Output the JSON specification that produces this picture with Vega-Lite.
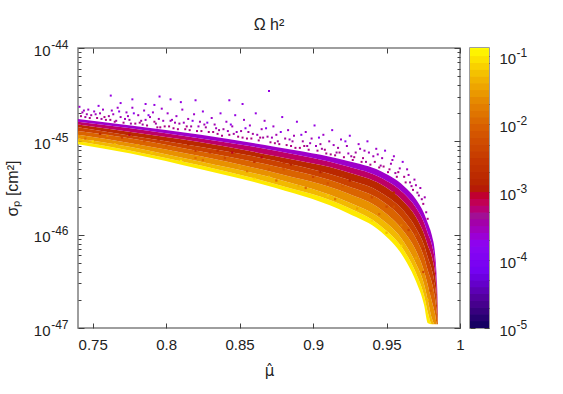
{"$schema":"https://vega.github.io/schema/vega-lite/v6.json","background":"white","padding":{"left":3,"top":16,"right":0,"bottom":0},"spacing":3,
"config":{"font":"Liberation Sans","view":{"stroke":"#7f7f7f","strokeWidth":1.5},"axis":{"domain":false,"grid":false,"tickColor":"#404040","tickWidth":1,"labelColor":"#222222","titleColor":"#222222","labelFont":"Liberation Sans","titleFont":"Liberation Sans","labelOverlap":false,"labelFlush":false,"labelBound":false,"titleFontWeight":"normal"}},
"datasets":{
"bands":[
{"x":0.74,"o":-1,"a":-45.03,"b":-45.00},{"x":0.74,"o":-1.3,"a":-45.00,"b":-44.97},{"x":0.74,"o":-1.6,"a":-44.97,"b":-44.93},{"x":0.74,"o":-2,"a":-44.93,"b":-44.89},{"x":0.74,"o":-2.4,"a":-44.89,"b":-44.85},{"x":0.74,"o":-2.8,"a":-44.85,"b":-44.82},{"x":0.74,"o":-3.2,"a":-44.82,"b":-44.79},{"x":0.74,"o":-3.6,"a":-44.79,"b":-44.76},
{"x":0.7759,"o":-1,"a":-45.13,"b":-45.10},{"x":0.7759,"o":-1.3,"a":-45.10,"b":-45.06},{"x":0.7759,"o":-1.6,"a":-45.06,"b":-45.02},{"x":0.7759,"o":-2,"a":-45.02,"b":-44.97},{"x":0.7759,"o":-2.4,"a":-44.97,"b":-44.94},{"x":0.7759,"o":-2.8,"a":-44.94,"b":-44.90},{"x":0.7759,"o":-3.2,"a":-44.90,"b":-44.86},{"x":0.7759,"o":-3.6,"a":-44.86,"b":-44.83},
{"x":0.8236,"o":-1,"a":-45.30,"b":-45.26},{"x":0.8236,"o":-1.3,"a":-45.26,"b":-45.22},{"x":0.8236,"o":-1.6,"a":-45.22,"b":-45.16},{"x":0.8236,"o":-2,"a":-45.16,"b":-45.11},{"x":0.8236,"o":-2.4,"a":-45.11,"b":-45.06},{"x":0.8236,"o":-2.8,"a":-45.06,"b":-45.01},{"x":0.8236,"o":-3.2,"a":-45.01,"b":-44.97},{"x":0.8236,"o":-3.6,"a":-44.97,"b":-44.93},
{"x":0.8747,"o":-1,"a":-45.50,"b":-45.46},{"x":0.8747,"o":-1.3,"a":-45.46,"b":-45.40},{"x":0.8747,"o":-1.6,"a":-45.40,"b":-45.34},{"x":0.8747,"o":-2,"a":-45.34,"b":-45.27},{"x":0.8747,"o":-2.4,"a":-45.27,"b":-45.21},{"x":0.8747,"o":-2.8,"a":-45.21,"b":-45.16},{"x":0.8747,"o":-3.2,"a":-45.16,"b":-45.10},{"x":0.8747,"o":-3.6,"a":-45.10,"b":-45.06},
{"x":0.9237,"o":-1,"a":-45.77,"b":-45.71},{"x":0.9237,"o":-1.3,"a":-45.71,"b":-45.65},{"x":0.9237,"o":-1.6,"a":-45.65,"b":-45.56},{"x":0.9237,"o":-2,"a":-45.56,"b":-45.48},{"x":0.9237,"o":-2.4,"a":-45.48,"b":-45.41},{"x":0.9237,"o":-2.8,"a":-45.41,"b":-45.33},{"x":0.9237,"o":-3.2,"a":-45.33,"b":-45.27},{"x":0.9237,"o":-3.6,"a":-45.27,"b":-45.21},
{"x":0.9462,"o":-1,"a":-45.97,"b":-45.91},{"x":0.9462,"o":-1.3,"a":-45.91,"b":-45.83},{"x":0.9462,"o":-1.6,"a":-45.83,"b":-45.73},{"x":0.9462,"o":-2,"a":-45.73,"b":-45.63},{"x":0.9462,"o":-2.4,"a":-45.63,"b":-45.55},{"x":0.9462,"o":-2.8,"a":-45.55,"b":-45.46},{"x":0.9462,"o":-3.2,"a":-45.46,"b":-45.39},{"x":0.9462,"o":-3.6,"a":-45.39,"b":-45.32},
{"x":0.9619,"o":-1,"a":-46.25,"b":-46.17},{"x":0.9619,"o":-1.3,"a":-46.17,"b":-46.08},{"x":0.9619,"o":-1.6,"a":-46.08,"b":-45.97},{"x":0.9619,"o":-2,"a":-45.97,"b":-45.85},{"x":0.9619,"o":-2.4,"a":-45.85,"b":-45.75},{"x":0.9619,"o":-2.8,"a":-45.75,"b":-45.65},{"x":0.9619,"o":-3.2,"a":-45.65,"b":-45.56},{"x":0.9619,"o":-3.6,"a":-45.56,"b":-45.48},
{"x":0.97,"o":-1,"a":-46.50,"b":-46.41},{"x":0.97,"o":-1.3,"a":-46.41,"b":-46.31},{"x":0.97,"o":-1.6,"a":-46.31,"b":-46.17},{"x":0.97,"o":-2,"a":-46.17,"b":-46.04},{"x":0.97,"o":-2.4,"a":-46.04,"b":-45.93},{"x":0.97,"o":-2.8,"a":-45.93,"b":-45.81},{"x":0.97,"o":-3.2,"a":-45.81,"b":-45.71},{"x":0.97,"o":-3.6,"a":-45.71,"b":-45.62},
{"x":0.9755,"o":-1,"a":-46.75,"b":-46.65},{"x":0.9755,"o":-1.3,"a":-46.65,"b":-46.53},{"x":0.9755,"o":-1.6,"a":-46.53,"b":-46.39},{"x":0.9755,"o":-2,"a":-46.39,"b":-46.24},{"x":0.9755,"o":-2.4,"a":-46.24,"b":-46.11},{"x":0.9755,"o":-2.8,"a":-46.11,"b":-45.99},{"x":0.9755,"o":-3.2,"a":-45.99,"b":-45.87},{"x":0.9755,"o":-3.6,"a":-45.87,"b":-45.77},
{"x":0.9782,"o":-1,"a":-46.95,"b":-46.84},{"x":0.9782,"o":-1.3,"a":-46.84,"b":-46.71},{"x":0.9782,"o":-1.6,"a":-46.71,"b":-46.55},{"x":0.9782,"o":-2,"a":-46.55,"b":-46.39},{"x":0.9782,"o":-2.4,"a":-46.39,"b":-46.25},{"x":0.9782,"o":-2.8,"a":-46.25,"b":-46.12},{"x":0.9782,"o":-3.2,"a":-46.12,"b":-45.99},{"x":0.9782,"o":-3.6,"a":-45.99,"b":-45.88},
{"x":0.9809,"o":-1,"a":-46.96,"b":-46.96},{"x":0.9809,"o":-1.3,"a":-46.96,"b":-46.90},{"x":0.9809,"o":-1.6,"a":-46.90,"b":-46.72},{"x":0.9809,"o":-2,"a":-46.72,"b":-46.52},{"x":0.9809,"o":-2.4,"a":-46.52,"b":-46.38},{"x":0.9809,"o":-2.8,"a":-46.38,"b":-46.24},{"x":0.9809,"o":-3.2,"a":-46.24,"b":-46.11},{"x":0.9809,"o":-3.6,"a":-46.11,"b":-46.01},
{"x":0.983,"o":-1,"a":-46.96,"b":-46.96},{"x":0.983,"o":-1.3,"a":-46.96,"b":-46.96},{"x":0.983,"o":-1.6,"a":-46.96,"b":-46.85},{"x":0.983,"o":-2,"a":-46.85,"b":-46.68},{"x":0.983,"o":-2.4,"a":-46.68,"b":-46.55},{"x":0.983,"o":-2.8,"a":-46.55,"b":-46.42},{"x":0.983,"o":-3.2,"a":-46.42,"b":-46.30},{"x":0.983,"o":-3.6,"a":-46.30,"b":-46.20},
{"x":0.9843,"o":-1,"a":-46.96,"b":-46.96},{"x":0.9843,"o":-1.3,"a":-46.96,"b":-46.96},{"x":0.9843,"o":-1.6,"a":-46.96,"b":-46.96},{"x":0.9843,"o":-2,"a":-46.96,"b":-46.85},{"x":0.9843,"o":-2.4,"a":-46.85,"b":-46.75},{"x":0.9843,"o":-2.8,"a":-46.75,"b":-46.66},{"x":0.9843,"o":-3.2,"a":-46.66,"b":-46.57},{"x":0.9843,"o":-3.6,"a":-46.57,"b":-46.50},
{"x":0.985,"o":-1,"a":-46.96,"b":-46.96},{"x":0.985,"o":-1.3,"a":-46.96,"b":-46.96},{"x":0.985,"o":-1.6,"a":-46.96,"b":-46.96},{"x":0.985,"o":-2,"a":-46.96,"b":-46.96},{"x":0.985,"o":-2.4,"a":-46.96,"b":-46.93},{"x":0.985,"o":-2.8,"a":-46.93,"b":-46.90},{"x":0.985,"o":-3.2,"a":-46.90,"b":-46.86},{"x":0.985,"o":-3.6,"a":-46.86,"b":-46.82}
],
"pts":[
{"x":0.7623,"y":-44.51,"o":-3.7},{"x":0.7955,"y":-44.52,"o":-3.7},{"x":0.803,"y":-44.55,"o":-3.7},{"x":0.777,"y":-44.55,"o":-3.7},{"x":0.82,"y":-44.56,"o":-3.7},{"x":0.843,"y":-44.56,"o":-3.7},{"x":0.87,"y":-44.46,"o":-3.7},{"x":0.81,"y":-44.58,"o":-3.7},{"x":0.769,"y":-44.59,"o":-3.7},{"x":0.852,"y":-44.6,"o":-3.7},{"x":0.754,"y":-44.62,"o":-3.7},{"x":0.786,"y":-44.6,"o":-3.7},{"x":0.792,"y":-44.61,"o":-3.7},
{"x":0.741,"y":-44.63,"o":-3.6},{"x":0.743,"y":-44.69,"o":-3.5},{"x":0.745,"y":-44.74,"o":-3.4},{"x":0.747,"y":-44.66,"o":-3.6},{"x":0.749,"y":-44.72,"o":-3.4},{"x":0.751,"y":-44.68,"o":-3.6},{"x":0.753,"y":-44.75,"o":-3.3},{"x":0.755,"y":-44.7,"o":-3.5},{"x":0.757,"y":-44.66,"o":-3.6},{"x":0.759,"y":-44.77,"o":-3.3},{"x":0.761,"y":-44.73,"o":-3.4},{"x":0.763,"y":-44.67,"o":-3.6},{"x":0.765,"y":-44.79,"o":-3.3},{"x":0.767,"y":-44.64,"o":-3.6},{"x":0.769,"y":-44.74,"o":-3.5},{"x":0.771,"y":-44.8,"o":-3.3},{"x":0.773,"y":-44.69,"o":-3.6},{"x":0.775,"y":-44.77,"o":-3.4},{"x":0.777,"y":-44.64,"o":-3.6},{"x":0.779,"y":-44.81,"o":-3.3},{"x":0.781,"y":-44.72,"o":-3.5},{"x":0.783,"y":-44.78,"o":-3.4},{"x":0.785,"y":-44.67,"o":-3.6},{"x":0.787,"y":-44.83,"o":-3.3},{"x":0.789,"y":-44.74,"o":-3.5},{"x":0.791,"y":-44.69,"o":-3.6},{"x":0.793,"y":-44.81,"o":-3.4},{"x":0.795,"y":-44.76,"o":-3.5},{"x":0.797,"y":-44.65,"o":-3.6},{"x":0.799,"y":-44.84,"o":-3.3},{"x":0.801,"y":-44.7,"o":-3.6},{"x":0.803,"y":-44.78,"o":-3.5},{"x":0.805,"y":-44.86,"o":-3.3},{"x":0.807,"y":-44.73,"o":-3.6},{"x":0.809,"y":-44.81,"o":-3.4},{"x":0.811,"y":-44.66,"o":-3.6},{"x":0.813,"y":-44.87,"o":-3.3},{"x":0.815,"y":-44.76,"o":-3.5},{"x":0.817,"y":-44.84,"o":-3.4},{"x":0.819,"y":-44.71,"o":-3.6},{"x":0.821,"y":-44.89,"o":-3.3},{"x":0.823,"y":-44.79,"o":-3.5},{"x":0.825,"y":-44.68,"o":-3.7},{"x":0.827,"y":-44.85,"o":-3.4},{"x":0.829,"y":-44.9,"o":-3.3},{"x":0.831,"y":-44.75,"o":-3.6},{"x":0.833,"y":-44.82,"o":-3.5},{"x":0.835,"y":-44.92,"o":-3.3},{"x":0.837,"y":-44.7,"o":-3.7},{"x":0.839,"y":-44.87,"o":-3.4},{"x":0.841,"y":-44.79,"o":-3.6},{"x":0.843,"y":-44.93,"o":-3.3},{"x":0.845,"y":-44.84,"o":-3.5},{"x":0.847,"y":-44.72,"o":-3.7},{"x":0.849,"y":-44.95,"o":-3.3},{"x":0.851,"y":-44.89,"o":-3.4},{"x":0.853,"y":-44.77,"o":-3.6},{"x":0.855,"y":-44.97,"o":-3.3},{"x":0.857,"y":-44.83,"o":-3.6},{"x":0.859,"y":-44.92,"o":-3.4},{"x":0.861,"y":-44.7,"o":-3.7},{"x":0.863,"y":-44.99,"o":-3.3},{"x":0.865,"y":-44.87,"o":-3.5},{"x":0.867,"y":-44.78,"o":-3.6},{"x":0.869,"y":-44.95,"o":-3.4},{"x":0.871,"y":-45.01,"o":-3.3},{"x":0.873,"y":-44.84,"o":-3.6},{"x":0.875,"y":-44.93,"o":-3.5},{"x":0.877,"y":-45.03,"o":-3.3},{"x":0.879,"y":-44.74,"o":-3.7},{"x":0.881,"y":-44.97,"o":-3.4},{"x":0.883,"y":-44.88,"o":-3.6},{"x":0.885,"y":-45.05,"o":-3.3},{"x":0.887,"y":-44.94,"o":-3.5},{"x":0.889,"y":-44.79,"o":-3.7},{"x":0.891,"y":-45.07,"o":-3.3},{"x":0.893,"y":-45.0,"o":-3.4},{"x":0.895,"y":-44.9,"o":-3.6},{"x":0.897,"y":-45.09,"o":-3.3},{"x":0.899,"y":-44.97,"o":-3.5},{"x":0.901,"y":-44.83,"o":-3.7},{"x":0.903,"y":-45.1,"o":-3.3},{"x":0.905,"y":-45.03,"o":-3.4},{"x":0.907,"y":-44.93,"o":-3.6},{"x":0.909,"y":-45.13,"o":-3.3},{"x":0.911,"y":-45.0,"o":-3.5},{"x":0.913,"y":-44.88,"o":-3.7},{"x":0.915,"y":-45.15,"o":-3.3},{"x":0.917,"y":-45.07,"o":-3.4},{"x":0.919,"y":-44.98,"o":-3.6},{"x":0.921,"y":-45.17,"o":-3.3},{"x":0.923,"y":-45.05,"o":-3.5},{"x":0.925,"y":-44.94,"o":-3.7},{"x":0.927,"y":-45.2,"o":-3.3},{"x":0.929,"y":-45.12,"o":-3.4},{"x":0.931,"y":-45.03,"o":-3.6},{"x":0.933,"y":-45.22,"o":-3.3},{"x":0.935,"y":-45.1,"o":-3.5},{"x":0.937,"y":-45.0,"o":-3.7},{"x":0.939,"y":-45.25,"o":-3.3},{"x":0.941,"y":-45.16,"o":-3.5},{"x":0.943,"y":-45.08,"o":-3.6},{"x":0.945,"y":-45.28,"o":-3.3},{"x":0.947,"y":-45.18,"o":-3.5},{"x":0.949,"y":-45.1,"o":-3.7},{"x":0.951,"y":-45.33,"o":-3.3},{"x":0.953,"y":-45.24,"o":-3.5},{"x":0.955,"y":-45.16,"o":-3.6},{"x":0.957,"y":-45.38,"o":-3.3},{"x":0.959,"y":-45.29,"o":-3.5},{"x":0.961,"y":-45.22,"o":-3.7},{"x":0.963,"y":-45.44,"o":-3.3},{"x":0.965,"y":-45.36,"o":-3.5},{"x":0.967,"y":-45.48,"o":-3.4},{"x":0.969,"y":-45.41,"o":-3.5},{"x":0.971,"y":-45.55,"o":-3.4},{"x":0.973,"y":-45.5,"o":-3.5},{"x":0.975,"y":-45.67,"o":-3.3},{"x":0.976,"y":-45.6,"o":-3.5},{"x":0.977,"y":-45.76,"o":-3.4},{"x":0.978,"y":-45.83,"o":-3.3},
{"x":0.746,"y":-44.71,"o":-3.5},{"x":0.756,"y":-44.76,"o":-3.4},{"x":0.766,"y":-44.78,"o":-3.4},{"x":0.776,"y":-44.81,"o":-3.4},{"x":0.784,"y":-44.82,"o":-3.4},{"x":0.796,"y":-44.85,"o":-3.3},{"x":0.806,"y":-44.8,"o":-3.5},{"x":0.816,"y":-44.88,"o":-3.3},{"x":0.826,"y":-44.82,"o":-3.5},{"x":0.836,"y":-44.88,"o":-3.4},{"x":0.846,"y":-44.92,"o":-3.4},{"x":0.856,"y":-44.9,"o":-3.4},{"x":0.866,"y":-44.96,"o":-3.4},{"x":0.876,"y":-45.0,"o":-3.4},{"x":0.886,"y":-45.0,"o":-3.4},{"x":0.896,"y":-45.05,"o":-3.4},{"x":0.906,"y":-45.08,"o":-3.4},{"x":0.916,"y":-45.12,"o":-3.4},{"x":0.926,"y":-45.16,"o":-3.4},{"x":0.936,"y":-45.22,"o":-3.4},{"x":0.946,"y":-45.26,"o":-3.4},{"x":0.956,"y":-45.34,"o":-3.4},{"x":0.966,"y":-45.44,"o":-3.4},{"x":0.972,"y":-45.58,"o":-3.4},
{"x":0.742,"y":-44.73,"o":-3.3},{"x":0.744,"y":-44.67,"o":-3.55},{"x":0.748,"y":-44.75,"o":-3.3},{"x":0.752,"y":-44.71,"o":-3.55},{"x":0.758,"y":-44.74,"o":-3.3},{"x":0.762,"y":-44.77,"o":-3.3},{"x":0.764,"y":-44.71,"o":-3.55},{"x":0.768,"y":-44.68,"o":-3.75},{"x":0.772,"y":-44.76,"o":-3.55},{"x":0.774,"y":-44.73,"o":-3.55},{"x":0.778,"y":-44.7,"o":-3.75},{"x":0.782,"y":-44.8,"o":-3.3},{"x":0.786,"y":-44.77,"o":-3.55},{"x":0.788,"y":-44.72,"o":-3.75},{"x":0.792,"y":-44.79,"o":-3.3},{"x":0.794,"y":-44.85,"o":-3.3},{"x":0.798,"y":-44.78,"o":-3.55},{"x":0.802,"y":-44.84,"o":-3.3},{"x":0.804,"y":-44.77,"o":-3.55},{"x":0.808,"y":-44.87,"o":-3.3},{"x":0.812,"y":-44.8,"o":-3.55},{"x":0.814,"y":-44.84,"o":-3.3},{"x":0.818,"y":-44.78,"o":-3.75},{"x":0.822,"y":-44.84,"o":-3.55},{"x":0.824,"y":-44.89,"o":-3.3},{"x":0.828,"y":-44.8,"o":-3.75},{"x":0.832,"y":-44.9,"o":-3.3},{"x":0.834,"y":-44.86,"o":-3.55},{"x":0.838,"y":-44.94,"o":-3.3},{"x":0.842,"y":-44.89,"o":-3.55},{"x":0.844,"y":-44.82,"o":-3.75},{"x":0.848,"y":-44.9,"o":-3.55},{"x":0.852,"y":-44.96,"o":-3.3},{"x":0.854,"y":-44.86,"o":-3.75},{"x":0.858,"y":-44.97,"o":-3.3},{"x":0.862,"y":-44.93,"o":-3.55},{"x":0.864,"y":-44.96,"o":-3.3},{"x":0.868,"y":-44.86,"o":-3.75},{"x":0.872,"y":-44.96,"o":-3.55},{"x":0.874,"y":-45.02,"o":-3.3},{"x":0.878,"y":-44.9,"o":-3.75},{"x":0.882,"y":-45.04,"o":-3.3},{"x":0.884,"y":-44.98,"o":-3.55},{"x":0.888,"y":-45.07,"o":-3.3},{"x":0.892,"y":-44.93,"o":-3.75},{"x":0.894,"y":-45.05,"o":-3.3},{"x":0.898,"y":-45.02,"o":-3.55},{"x":0.902,"y":-45.05,"o":-3.55},{"x":0.904,"y":-44.96,"o":-3.75},{"x":0.908,"y":-45.09,"o":-3.3},{"x":0.912,"y":-45.14,"o":-3.3},{"x":0.914,"y":-45.04,"o":-3.55},{"x":0.918,"y":-45.12,"o":-3.3},{"x":0.922,"y":-45.0,"o":-3.75},{"x":0.924,"y":-45.13,"o":-3.55},{"x":0.928,"y":-45.17,"o":-3.3},{"x":0.932,"y":-45.08,"o":-3.55},{"x":0.934,"y":-45.18,"o":-3.3},{"x":0.938,"y":-45.12,"o":-3.55},{"x":0.942,"y":-45.22,"o":-3.3},{"x":0.944,"y":-45.14,"o":-3.55},{"x":0.948,"y":-45.27,"o":-3.3},{"x":0.952,"y":-45.3,"o":-3.3},{"x":0.954,"y":-45.2,"o":-3.55},{"x":0.958,"y":-45.33,"o":-3.3},{"x":0.962,"y":-45.38,"o":-3.3},{"x":0.964,"y":-45.3,"o":-3.55},{"x":0.968,"y":-45.52,"o":-3.3},{"x":0.97,"y":-45.47,"o":-3.5},{"x":0.974,"y":-45.62,"o":-3.4}
],
"noise":[
{"x":0.75,"y":-45.0,"o":-1.1},{"x":0.76,"y":-44.94,"o":-1.7},{"x":0.77,"y":-44.96,"o":-2.4},{"x":0.78,"y":-45.04,"o":-1.5},{"x":0.79,"y":-45.12,"o":-1.2},{"x":0.8,"y":-45.05,"o":-2.1},{"x":0.81,"y":-45.14,"o":-1.6},{"x":0.82,"y":-45.1,"o":-2.5},{"x":0.83,"y":-45.25,"o":-1.3},{"x":0.84,"y":-45.18,"o":-2.3},{"x":0.85,"y":-45.28,"o":-1.5},{"x":0.86,"y":-45.22,"o":-2.6},{"x":0.87,"y":-45.38,"o":-1.3},{"x":0.88,"y":-45.3,"o":-2.2},{"x":0.89,"y":-45.48,"o":-1.4},{"x":0.9,"y":-45.38,"o":-2.4},{"x":0.91,"y":-45.58,"o":-1.2},{"x":0.92,"y":-45.48,"o":-2.1},{"x":0.93,"y":-45.72,"o":-1.5},{"x":0.94,"y":-45.6,"o":-2.3},{"x":0.95,"y":-45.98,"o":-1.3},{"x":0.96,"y":-45.9,"o":-1.8},{"x":0.97,"y":-46.25,"o":-1.5},
{"x":0.745,"y":-44.97,"o":-1.9},{"x":0.755,"y":-44.92,"o":-2.7},{"x":0.765,"y":-45.03,"o":-1.3},{"x":0.775,"y":-44.93,"o":-3.0},{"x":0.785,"y":-45.0,"o":-2.2},{"x":0.795,"y":-44.98,"o":-2.9},{"x":0.805,"y":-45.09,"o":-1.9},{"x":0.815,"y":-45.03,"o":-2.9},{"x":0.825,"y":-45.2,"o":-1.9},{"x":0.835,"y":-45.1,"o":-2.7},{"x":0.845,"y":-45.12,"o":-3.0},{"x":0.855,"y":-45.32,"o":-1.8},{"x":0.865,"y":-45.17,"o":-3.0},{"x":0.875,"y":-45.42,"o":-1.9},{"x":0.885,"y":-45.25,"o":-2.9},{"x":0.895,"y":-45.5,"o":-1.9},{"x":0.905,"y":-45.33,"o":-2.9},{"x":0.915,"y":-45.62,"o":-1.8},{"x":0.925,"y":-45.42,"o":-2.9},{"x":0.935,"y":-45.6,"o":-2.0},{"x":0.945,"y":-45.78,"o":-1.9},{"x":0.955,"y":-45.7,"o":-2.2},{"x":0.965,"y":-45.95,"o":-2.4},{"x":0.975,"y":-46.4,"o":-2.3},{"x":0.978,"y":-46.7,"o":-1.3},{"x":0.98,"y":-46.6,"o":-2.2},{"x":0.982,"y":-46.5,"o":-2.7},
{"x":0.81,"y":-45.21,"o":-1.0},{"x":0.86,"y":-45.4,"o":-1.1},{"x":0.9,"y":-45.6,"o":-1.0},{"x":0.94,"y":-45.85,"o":-1.1},{"x":0.96,"y":-46.12,"o":-1.1},{"x":0.82,"y":-45.18,"o":-1.9},{"x":0.87,"y":-45.3,"o":-2.1},{"x":0.91,"y":-45.45,"o":-2.2},{"x":0.95,"y":-45.7,"o":-2.3},{"x":0.83,"y":-45.12,"o":-2.5},{"x":0.88,"y":-45.23,"o":-2.6},{"x":0.92,"y":-45.37,"o":-2.7},{"x":0.955,"y":-45.55,"o":-2.8},{"x":0.97,"y":-46.0,"o":-2.2},{"x":0.975,"y":-46.15,"o":-2.6}
],
"bar":[
{"a":-5.0,"b":-4.9,"o":-4.95},{"a":-4.9,"b":-4.8,"o":-4.85},{"a":-4.8,"b":-4.7,"o":-4.75},{"a":-4.7,"b":-4.6,"o":-4.65},{"a":-4.6,"b":-4.5,"o":-4.55},{"a":-4.5,"b":-4.4,"o":-4.45},{"a":-4.4,"b":-4.3,"o":-4.35},{"a":-4.3,"b":-4.2,"o":-4.25},{"a":-4.2,"b":-4.1,"o":-4.15},{"a":-4.1,"b":-4.0,"o":-4.05},{"a":-4.0,"b":-3.9,"o":-3.95},{"a":-3.9,"b":-3.8,"o":-3.85},{"a":-3.8,"b":-3.7,"o":-3.75},{"a":-3.7,"b":-3.6,"o":-3.65},{"a":-3.6,"b":-3.5,"o":-3.55},{"a":-3.5,"b":-3.4,"o":-3.45},{"a":-3.4,"b":-3.3,"o":-3.35},{"a":-3.3,"b":-3.2,"o":-3.25},{"a":-3.2,"b":-3.1,"o":-3.15},{"a":-3.1,"b":-3.0,"o":-3.05},{"a":-3.0,"b":-2.9,"o":-2.95},{"a":-2.9,"b":-2.8,"o":-2.85},{"a":-2.8,"b":-2.7,"o":-2.75},{"a":-2.7,"b":-2.6,"o":-2.65},{"a":-2.6,"b":-2.5,"o":-2.55},{"a":-2.5,"b":-2.4,"o":-2.45},{"a":-2.4,"b":-2.3,"o":-2.35},{"a":-2.3,"b":-2.2,"o":-2.25},{"a":-2.2,"b":-2.1,"o":-2.15},{"a":-2.1,"b":-2.0,"o":-2.05},{"a":-2.0,"b":-1.9,"o":-1.95},{"a":-1.9,"b":-1.8,"o":-1.85},{"a":-1.8,"b":-1.7,"o":-1.75},{"a":-1.7,"b":-1.6,"o":-1.65},{"a":-1.6,"b":-1.5,"o":-1.55},{"a":-1.5,"b":-1.4,"o":-1.45},{"a":-1.4,"b":-1.3,"o":-1.35},{"a":-1.3,"b":-1.2,"o":-1.25},{"a":-1.2,"b":-1.1,"o":-1.15},{"a":-1.1,"b":-1.0,"o":-1.05},{"a":-1.0,"b":-0.9,"o":-0.95},{"a":-0.9,"b":-0.88,"o":-0.88}
]},
"hconcat":[
{"width":382,"height":280,
"title":{"text":"Ω h²","fontSize":16,"font":"Liberation Sans","fontWeight":"normal","color":"#222222","anchor":"middle","offset":5},
"resolve":{"axis":{"x":"independent","y":"independent"}},
"layer":[
{"data":{"name":"bands"},"mark":{"type":"area","opacity":1,"interpolate":"monotone"},
"encoding":{
"x":{"field":"x","type":"quantitative","scale":{"domain":[0.74,1],"nice":false,"zero":false},
"axis":{"orient":"bottom","values":[0.75,0.8,0.85,0.9,0.95,1],"labelExpr":"''+datum.value","tickSize":-5,"labelFontSize":15,"labelPadding":14,"title":"μ̂","titleFont":"DejaVu Sans","titleFontSize":15,"titlePadding":11}},
"y":{"field":"a","type":"quantitative","scale":{"domain":[-47,-44],"nice":false,"zero":false},
"axis":{"orient":"left","values":[-44,-44.046,-44.097,-44.155,-44.222,-44.301,-44.398,-44.523,-44.699,-45,-45.046,-45.097,-45.155,-45.222,-45.301,-45.398,-45.523,-45.699,-46,-46.046,-46.097,-46.155,-46.222,-46.301,-46.398,-46.523,-46.699,-47],
"labelExpr":"datum.value==round(datum.value)?'10':''","tickSize":{"condition":{"test":"datum.value==round(datum.value)","value":-6},"value":-3},"labelFontSize":15,"labelPadding":34,"labelOffset":2,"title":"σₚ [cm²]","titleFontSize":16,"titlePadding":13}},
"y2":{"field":"b"},
"detail":{"field":"o","type":"quantitative"},
"color":{"field":"o","type":"quantitative","legend":null,"scale":{"domain":[-5,-4.588,-4.176,-3.764,-3.352,-2.94,-2.528,-2.116,-1.704,-1.292,-0.88],"range":["#000000","#500096","#7202f2","#8c07f2","#a11096","#b42000","#c53700","#d55700","#e48300","#f2ba00","#ffff00"]}}}},
{"data":{"name":"pts"},"mark":{"type":"square","size":4,"opacity":1},
"encoding":{
"x":{"field":"x","type":"quantitative","axis":{"orient":"top","values":[0.75,0.8,0.85,0.9,0.95,1],"labels":false,"tickSize":-5,"title":null}},
"y":{"field":"y","type":"quantitative","axis":{"orient":"left","values":[-44,-45,-46,-47],"labelExpr":"''+datum.value","ticks":false,"labelFontSize":12,"labelPadding":10,"labelOffset":-4,"title":null}},
"color":{"field":"o","type":"quantitative","legend":null}}},
{"data":{"name":"noise"},"mark":{"type":"square","size":5,"opacity":1},
"encoding":{
"x":{"field":"x","type":"quantitative","axis":null},
"y":{"field":"y","type":"quantitative","axis":{"orient":"right","values":[-44,-44.046,-44.097,-44.155,-44.222,-44.301,-44.398,-44.523,-44.699,-45,-45.046,-45.097,-45.155,-45.222,-45.301,-45.398,-45.523,-45.699,-46,-46.046,-46.097,-46.155,-46.222,-46.301,-46.398,-46.523,-46.699,-47],"labels":false,"tickSize":{"condition":{"test":"datum.value==round(datum.value)","value":-6},"value":-3},"title":null}},
"color":{"field":"o","type":"quantitative","legend":null}}}
]},
{"width":19,"height":280,
"resolve":{"axis":{"y":"independent"}},
"layer":[
{"data":{"name":"bar"},"mark":{"type":"rect"},
"encoding":{
"x":{"datum":0,"type":"quantitative","scale":{"domain":[0,1]},"axis":null},"x2":{"datum":1},
"y":{"field":"a","type":"quantitative","scale":{"domain":[-5,-0.88],"nice":false,"zero":false},"axis":{"orient":"left","values":[-1,-1.1,-1.7,-2,-2.3,-2.7,-3,-3.3,-3.7,-4,-4.3,-4.7,-5],"labels":false,"tickSize":{"condition":{"test":"datum.value==round(datum.value)","value":-5},"value":-3},"title":null}},
"y2":{"field":"b"},
"color":{"field":"o","type":"quantitative","legend":null,"scale":{"domain":[-5,-4.588,-4.176,-3.764,-3.352,-2.94,-2.528,-2.116,-1.704,-1.292,-0.88],"range":["#000000","#500096","#7202f2","#8c07f2","#a11096","#b42000","#c53700","#d55700","#e48300","#f2ba00","#ffff00"]}}}},
{"data":{"name":"bar"},"mark":{"type":"rect"},
"encoding":{
"x":{"datum":0,"type":"quantitative","axis":null},"x2":{"datum":1},
"y":{"field":"a","type":"quantitative","axis":{"orient":"right","values":[-1,-1.1,-1.7,-2,-2.3,-2.7,-3,-3.3,-3.7,-4,-4.3,-4.7,-5],"labelExpr":"datum.value==round(datum.value)?'10':''","tickSize":{"condition":{"test":"datum.value==round(datum.value)","value":-5},"value":-3},"labelFontSize":15,"labelPadding":15,"labelOffset":2,"title":null}},
"y2":{"field":"b"},
"color":{"field":"o","type":"quantitative","legend":null}}},
{"data":{"name":"bar"},"mark":{"type":"rect"},
"encoding":{
"x":{"datum":0,"type":"quantitative","axis":null},"x2":{"datum":1},
"y":{"field":"a","type":"quantitative","axis":{"orient":"right","values":[-1,-2,-3,-4,-5],"labelExpr":"''+datum.value","ticks":false,"labelFontSize":12,"labelPadding":27,"labelOffset":-4,"title":null}},
"y2":{"field":"b"},
"color":{"field":"o","type":"quantitative","legend":null}}}
]}
]}
